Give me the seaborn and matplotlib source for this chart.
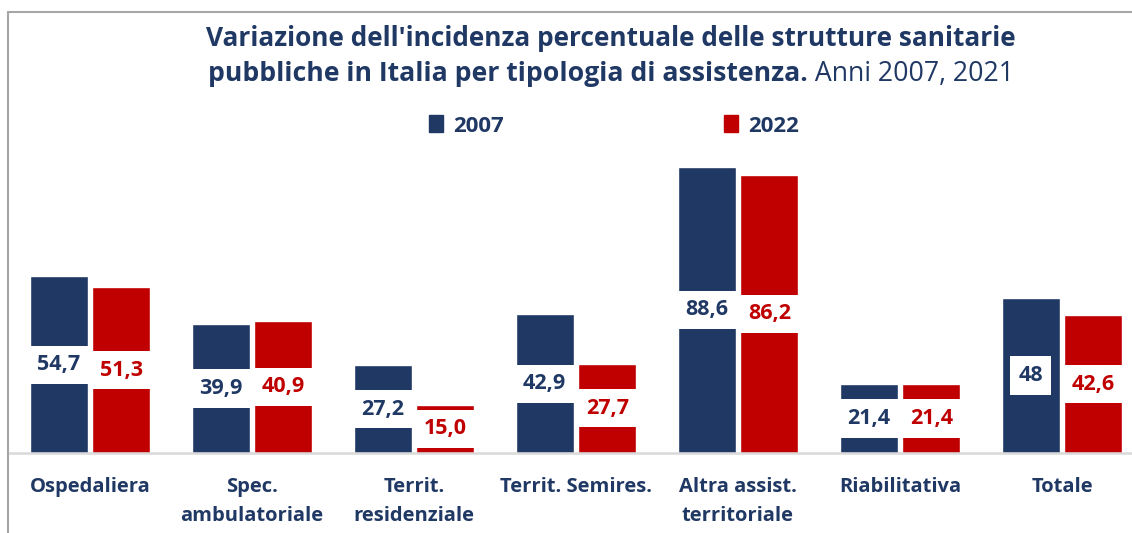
import pandas as pd
import numpy as np
import matplotlib.pyplot as plt
import seaborn as sns
from matplotlib.lines import Line2D
from matplotlib.patches import Patch
from matplotlib.path import Path

categories = ['Ospedaliera', 'Spec.\nambulatoriale', 'Territ.\nresidenziale', 'Territ. Semires.',
              'Altra assist.\nterritoriale', 'Riabilitativa', 'Totale']
val_2007 = [54.7, 39.9, 27.2, 42.9, 88.6, 21.4, 48.0]
val_2022 = [51.3, 40.9, 15.0, 27.7, 86.2, 21.4, 42.6]
lab_2007 = ['54,7', '39,9', '27,2', '42,9', '88,6', '21,4', '48']
lab_2022 = ['51,3', '40,9', '15,0', '27,7', '86,2', '21,4', '42,6']
years = ['2007', '2022']

navy = '#203864'
red = '#c00000'

df = pd.DataFrame({
    'Categoria': categories * 2,
    'Valore': val_2007 + val_2022,
    'Anno': [years[0]] * len(categories) + [years[1]] * len(categories),
})


def label_box(x0, y0, width, height, mutation_size):
    # white box, wider padding vertically than horizontally
    px = 0.38 * mutation_size
    py = 0.40 * mutation_size
    x1, y1 = x0 + width + px, y0 + height + py
    x0, y0 = x0 - px, y0 - py
    return Path([(x0, y0), (x1, y0), (x1, y1), (x0, y1), (x0, y0)], closed=True)


sns.set_style('white')
plt.rcParams['font.family'] = ['Open Sans', 'DejaVu Sans']

W, H = 1132, 533
fig = plt.figure(figsize=(W / 100, H / 100), dpi=100)
ax = fig.add_axes([9 / W, 1 - 453 / H, (W - 9) / W, 323 / H])

sns.barplot(data=df, x='Categoria', y='Valore', hue='Anno', palette=[navy, red],
            width=0.775, gap=0.076, saturation=1, legend=False, ax=ax)

ax.set_ylim(0, 100)
ax.set_xlim(-0.5, -0.5 + (W - 9) / 162)
for s in ax.spines.values():
    s.set_visible(False)
ax.set_yticks([])
ax.set_xlabel('')
ax.set_ylabel('')
ax.axhline(0, color='#d9d9d9', lw=1.8, clip_on=False, zorder=5)
ax.tick_params(axis='x', length=0, pad=17)
ax.set_xticks(range(len(categories)))
ax.set_xticklabels(categories, fontsize=14.5, fontweight='bold', color=navy, linespacing=1.62)

for cont, labs, col in zip(ax.containers, [lab_2007, lab_2022], [navy, red]):
    ax.bar_label(cont, labels=labs, label_type='center', color=col, fontsize=15.5,
                 fontweight='bold', bbox=dict(boxstyle=label_box, fc='white', ec='none'))

# legend
handles = [Patch(color=navy), Patch(color=red)]
leg = fig.legend(handles, years, loc='center', bbox_to_anchor=(614 / W, 1 - 126 / H), ncol=2,
                 frameon=False, handlelength=0.65, handleheight=0.8, handletextpad=0.45,
                 columnspacing=9.9, prop={'size': 16, 'weight': 'bold'})
for t in leg.get_texts():
    t.set_color(navy)

# title
cx = 611 / W
fig.text(cx, 1 - 38 / H, "Variazione dell'incidenza percentuale delle strutture sanitarie",
         ha='center', va='center', fontsize=18.9, fontweight='bold', color=navy)
t1 = fig.text(cx, 1 - 74 / H, "pubbliche in Italia per tipologia di assistenza.",
              ha='right', va='center', fontsize=19.2, fontweight='bold', color=navy)
t2 = fig.text(cx, 1 - 74 / H, " Anni 2007, 2021",
              ha='left', va='center', fontsize=19.2, color=navy)
fig.canvas.draw()
r = fig.canvas.get_renderer()
w1 = t1.get_window_extent(r).width
w2 = t2.get_window_extent(r).width
shift = (w1 - w2) / 2 / W
t1.set_x(cx + shift)
t2.set_x(cx + shift)

# outer frame
fig.add_artist(Line2D([8 / W, 8 / W], [0, 1 - 12 / H], color='#a6a6a6', lw=1.5))
fig.add_artist(Line2D([8 / W, 1], [1 - 12 / H, 1 - 12 / H], color='#a6a6a6', lw=1.5))

plt.savefig('out.png', dpi=100)
